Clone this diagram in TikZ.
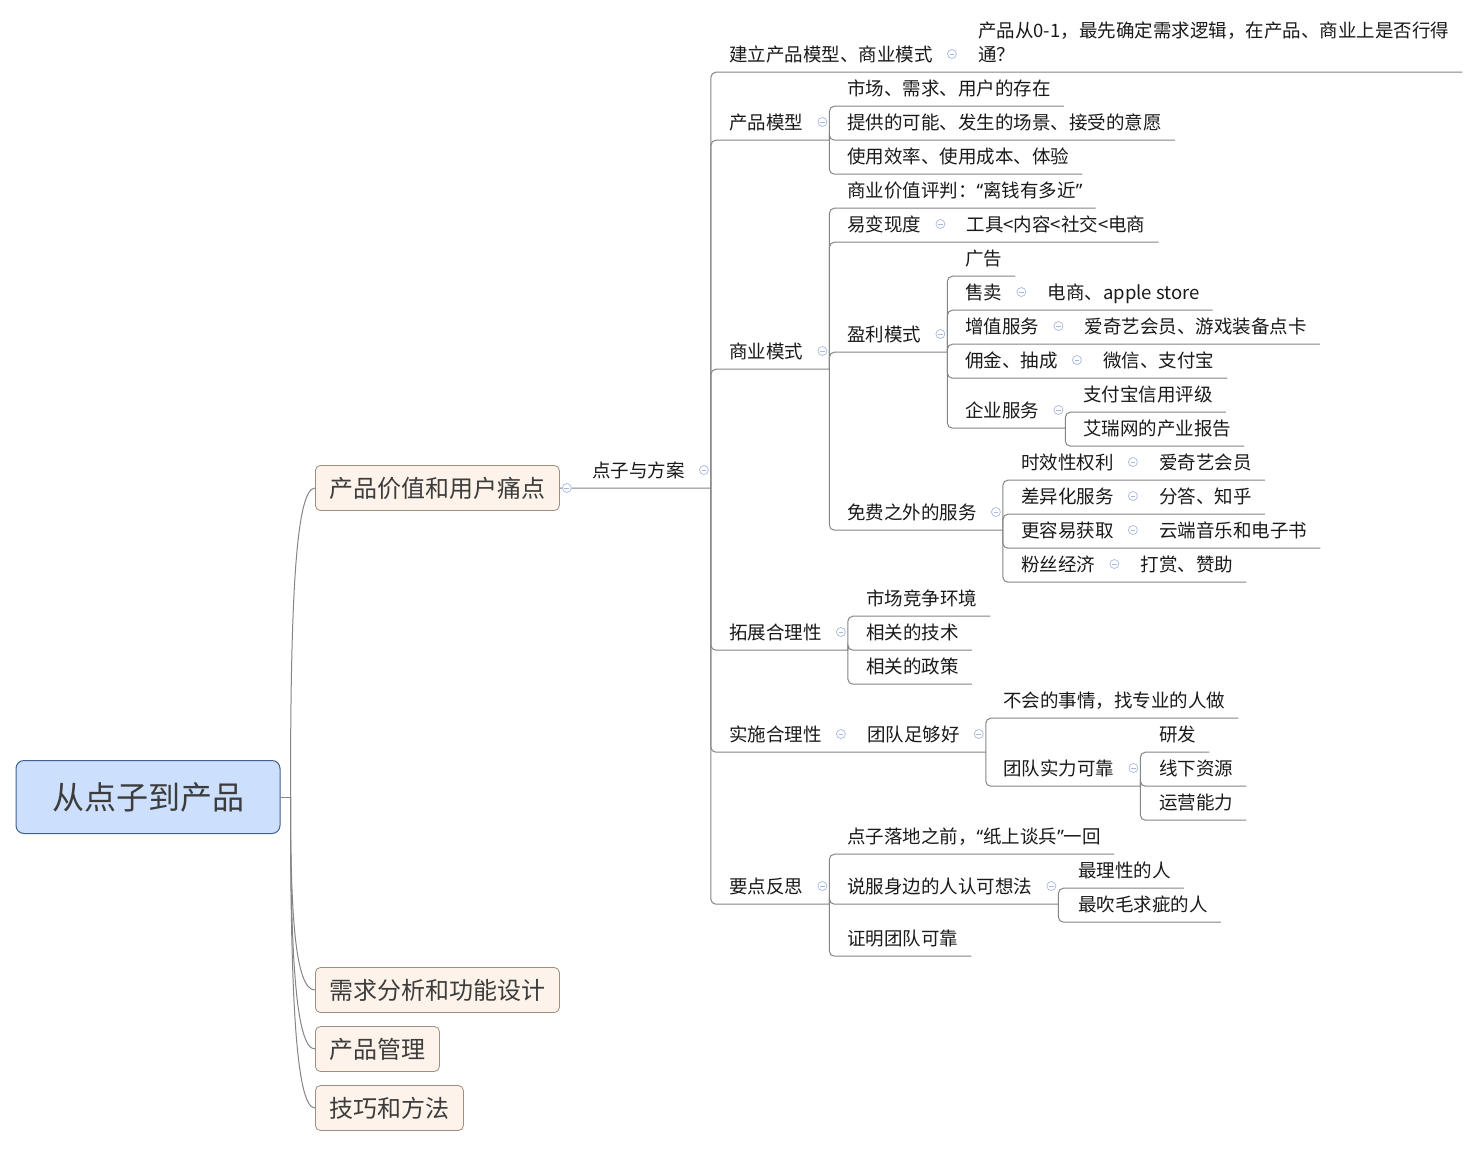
\documentclass[tikz,border=0pt]{standalone}
\usepackage{fontspec}
\setmainfont{Noto Sans CJK SC}
\newfontfamily\qfont{Noto Sans}
\usetikzlibrary{positioning,calc}
\definecolor{linkc}{HTML}{858585}
\definecolor{foldc}{HTML}{A8B8DC}
\definecolor{rootfill}{HTML}{CCDFFD}
\definecolor{rootline}{HTML}{41608F}
\definecolor{topfill}{HTML}{FDF3EA}
\definecolor{topline}{HTML}{9E8E80}
\definecolor{ink}{HTML}{1A1A1A}

\begin{document}
\begin{tikzpicture}[x=1pt,y=-1pt,node distance=45pt]
  \tikzstyle{link}=[draw=linkc,line width=1pt,rounded corners=5pt]
  \tikzstyle{rootbox}=[draw=rootline,fill=rootfill,line width=1pt,rounded corners=8pt,minimum width=264pt,minimum height=73pt,text=ink!85,font=\fontsize{32}{36}\selectfont]
  \tikzstyle{topic}=[draw=topline,fill=topfill,line width=0.8pt,rounded corners=5pt,anchor=west,minimum height=45pt,inner xsep=14pt,text=ink!85,font=\fontsize{24}{28}\selectfont]
  \tikzstyle{txt}=[inner sep=0pt,anchor=west,text height=25pt,text depth=11pt,text=ink,font=\fontsize{18.5}{22}\selectfont]
  \tikzstyle{note}=[inner sep=0pt,anchor=west,align=left,text=ink,font=\fontsize{18.5}{24}\selectfont]
  \tikzstyle{fold}=[circle,draw=foldc,fill=white,line width=0.7pt,minimum size=9pt,inner sep=0pt,
    path picture={\draw[foldc,line width=0.8pt] ([xshift=-2.4pt]path picture bounding box.center) -- ([xshift=2.4pt]path picture bounding box.center);}]
  \path[use as bounding box,fill=white] (0,0) rectangle (1479,1148);

  \node[rootbox] (root) at (148,797) {从点子到产品};
  \node[topic] (t1) at (315,488) {产品价值和用户痛点};
  \node[topic] (t2) at (315,990) {需求分析和功能设计};
  \node[topic] (t3) at (315,1049) {产品管理};
  \node[topic] (t4) at (315,1108) {技巧和方法};

  \node[txt] (dz) at (592,470) {点子与方案};

  \node[txt] (jm) at (729,54) {建立产品模型、商业模式};
  \node[note] (goal) at (978,42) {产品从0-1，最先确定需求逻辑，在产品、商业上是否行得\\通？};
  \node[txt] (pm) at (729,122) {产品模型};
  \node[txt] (sy) at (729,351) {商业模式};
  \node[txt] (tz) at (729,632) {拓展合理性};
  \node[txt] (ss) at (729,734) {实施合理性};
  \node[txt,right=of ss] (tg) {团队足够好};
  \node[txt] (yd) at (729,886) {要点反思};

  \node[txt] (m1) at (847,88) {市场、需求、用户的存在};
  \node[txt] (m2) at (847,122) {提供的可能、发生的场景、接受的意愿};
  \node[txt] (m3) at (847,156) {使用效率、使用成本、体验};

  \node[txt] (s1) at (847,190) {商业价值评判：{\qfont “}离钱有多近{\qfont ”}};
  \node[txt] (s2) at (847,224) {易变现度};
  \node[txt,right=of s2] (s2c) {工具<内容<社交<电商};
  \node[txt] (yl) at (847,334) {盈利模式};
  \node[txt] (mf) at (847,512) {免费之外的服务};

  \node[txt] (y1) at (965,258) {广告};
  \node[txt] (y2) at (965,292) {售卖};
  \node[txt,right=of y2] (y2c) {电商、apple store};
  \node[txt] (y3) at (965,326) {增值服务};
  \node[txt,right=of y3] (y3c) {爱奇艺会员、游戏装备点卡};
  \node[txt] (y4) at (965,360) {佣金、抽成};
  \node[txt,right=of y4] (y4c) {微信、支付宝};
  \node[txt] (qy) at (965,410) {企业服务};
  \node[txt] (q1) at (1083,394) {支付宝信用评级};
  \node[txt] (q2) at (1083,428) {艾瑞网的产业报告};

  \node[txt] (f1) at (1021,462) {时效性权利};
  \node[txt,right=of f1] (f1c) {爱奇艺会员};
  \node[txt] (f2) at (1021,496) {差异化服务};
  \node[txt,right=of f2] (f2c) {分答、知乎};
  \node[txt] (f3) at (1021,530) {更容易获取};
  \node[txt,right=of f3] (f3c) {云端音乐和电子书};
  \node[txt] (f4) at (1021,564) {粉丝经济};
  \node[txt,right=of f4] (f4c) {打赏、赞助};

  \node[txt] (z1) at (866,598) {市场竞争环境};
  \node[txt] (z2) at (866,632) {相关的技术};
  \node[txt] (z3) at (866,666) {相关的政策};

  \node[txt] (g1) at (1003,700) {不会的事情，找专业的人做};
  \node[txt] (td) at (1003,768) {团队实力可靠};
  \node[txt] (d1) at (1159,734) {研发};
  \node[txt] (d2) at (1159,768) {线下资源};
  \node[txt] (d3) at (1159,802) {运营能力};

  \node[txt] (p1) at (847,836) {点子落地之前，{\qfont “}纸上谈兵{\qfont ”}一回};
  \node[txt] (sf) at (847,886) {说服身边的人认可想法};
  \node[txt] (p3) at (847,938) {证明团队可靠};
  \node[txt] (h1) at (1078,870) {最理性的人};
  \node[txt] (h2) at (1078,904) {最吹毛求疵的人};

  \coordinate (rj) at ([xshift=10pt]root.east);
  \foreach \n in {dz,pm,sy,yl,qy,mf,tz,tg,td,yd,sf}
    \coordinate (\n-j) at ([xshift=26pt]\n.south east);

  \draw[link] (root.east) -- (rj);
  \foreach \t in {t1,t2,t3,t4}
    \draw[link] (rj) .. controls ($(rj)!0.6!(rj |- \t.west)$) and ([xshift=-20pt]\t.west) .. (\t.west);
  \draw[link] (t1.east) -- (dz-j);

  \draw[link] (dz-j) |- ([xshift=13pt]goal.east |- jm.south);
  \foreach \c in {pm-j,sy-j,tz-j,tg-j,yd-j}
    \draw[link] (dz-j) |- (\c);
  \foreach \c in {m1,m2,m3}
    \draw[link] (pm-j) |- ([xshift=13pt]\c.south east);
  \foreach \c in {s1,s2c}
    \draw[link] (sy-j) |- ([xshift=13pt]\c.south east);
  \foreach \c in {yl-j,mf-j}
    \draw[link] (sy-j) |- (\c);
  \foreach \c in {y1,y2c,y3c,y4c}
    \draw[link] (yl-j) |- ([xshift=13pt]\c.south east);
  \draw[link] (yl-j) |- (qy-j);
  \foreach \c in {q1,q2}
    \draw[link] (qy-j) |- ([xshift=13pt]\c.south east);
  \foreach \c in {f1c,f2c,f3c,f4c}
    \draw[link] (mf-j) |- ([xshift=13pt]\c.south east);
  \foreach \c in {z1,z2,z3}
    \draw[link] (tz-j) |- ([xshift=13pt]\c.south east);
  \draw[link] (tg-j) |- ([xshift=13pt]g1.south east);
  \draw[link] (tg-j) |- (td-j);
  \foreach \c in {d1,d2,d3}
    \draw[link] (td-j) |- ([xshift=13pt]\c.south east);
  \foreach \c in {p1,p3}
    \draw[link] (yd-j) |- ([xshift=13pt]\c.south east);
  \draw[link] (yd-j) |- (sf-j);
  \foreach \c in {h1,h2}
    \draw[link] (sf-j) |- ([xshift=13pt]\c.south east);

  \node[fold] (t1-f) at ([xshift=7pt]t1.east) {};
  \foreach \n in {dz,jm,pm,sy,s2,yl,y2,y3,y4,qy,mf,f1,f2,f3,f4,tz,ss,tg,td,yd,sf}
    \node[fold] (\n-f) at ([xshift=19pt]\n.east) {};
\end{tikzpicture}
\end{document}
